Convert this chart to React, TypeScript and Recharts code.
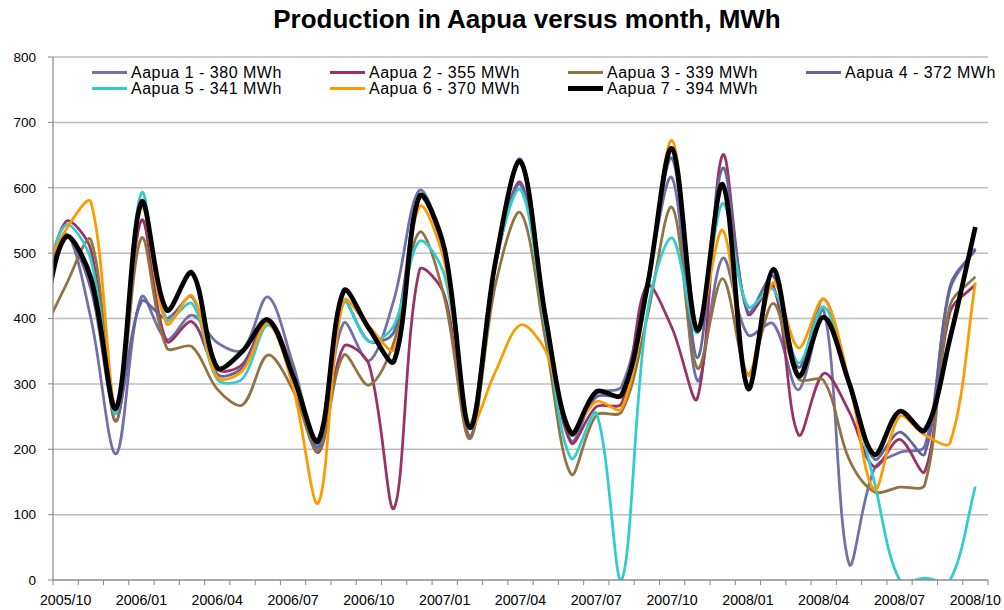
import React from 'react';
import { LineChart, Line, XAxis, YAxis, CartesianGrid } from 'recharts';

// Months (first entry 2005/09 lies just outside the visible axis and is clipped)
const MONTHS = [
  '2005/09', '2005/10', '2005/11', '2005/12', '2006/01', '2006/02', '2006/03', '2006/04', '2006/05', '2006/06',
  '2006/07', '2006/08', '2006/09', '2006/10', '2006/11', '2006/12', '2007/01', '2007/02', '2007/03', '2007/04',
  '2007/05', '2007/06', '2007/07', '2007/08', '2007/09', '2007/10', '2007/11', '2007/12', '2008/01', '2008/02',
  '2008/03', '2008/04', '2008/05', '2008/06', '2008/07', '2008/08', '2008/09', '2008/10',
];

const TICK_LABELS = [
  '2005/10', '2006/01', '2006/04', '2006/07', '2006/10', '2007/01', '2007/04',
  '2007/07', '2007/10', '2008/01', '2008/04', '2008/07', '2008/10',
];

const Y_TICKS = [0, 100, 200, 300, 400, 500, 600, 700, 800];

const AAPUA_1 = [410, 530, 400, 193, 433, 368, 405, 363, 352, 433, 330, 207, 393, 335, 430, 596, 500, 220, 485, 644, 405, 213, 285, 296, 455, 615, 305, 492, 375, 392, 291, 412, 25, 170, 195, 205, 445, 507];
const AAPUA_2 = [409, 548, 505, 243, 550, 365, 395, 322, 330, 400, 320, 195, 357, 330, 110, 474, 435, 217, 480, 608, 395, 210, 265, 270, 450, 385, 278, 650, 407, 450, 222, 316, 258, 173, 215, 166, 410, 452];
const AAPUA_3 = [369, 450, 520, 243, 523, 355, 357, 292, 268, 344, 290, 197, 344, 298, 365, 532, 430, 216, 450, 562, 365, 162, 252, 257, 400, 570, 324, 461, 315, 423, 308, 305, 185, 135, 142, 146, 420, 464];
const AAPUA_4 = [428, 525, 445, 255, 426, 400, 433, 315, 325, 398, 318, 203, 425, 365, 380, 585, 495, 235, 480, 605, 398, 222, 280, 285, 445, 645, 340, 630, 410, 465, 325, 430, 300, 185, 226, 193, 450, 505];
const AAPUA_5 = [429, 543, 490, 255, 592, 398, 423, 307, 308, 390, 318, 210, 425, 365, 390, 518, 465, 240, 485, 597, 385, 186, 255, 0, 405, 523, 378, 576, 418, 445, 332, 418, 300, 150, 0, 3, 0, 143];
const AAPUA_6 = [461, 535, 578, 265, 570, 392, 435, 310, 320, 393, 295, 118, 427, 388, 353, 571, 485, 235, 318, 390, 350, 228, 273, 262, 440, 672, 385, 535, 313, 455, 355, 430, 305, 138, 250, 222, 210, 455];
const AAPUA_7 = [378, 525, 462, 263, 578, 413, 470, 325, 350, 398, 312, 213, 442, 385, 335, 587, 505, 233, 485, 640, 400, 225, 288, 283, 445, 660, 382, 605, 293, 475, 312, 402, 302, 192, 258, 229, 370, 540];

const SERIES = [
  { key: 's1', name: 'Aapua 1 - 380 MWh', values: AAPUA_1, color: '#7171A8', width: 2.75 },
  { key: 's2', name: 'Aapua 2 - 355 MWh', values: AAPUA_2, color: '#993366', width: 2.75 },
  { key: 's3', name: 'Aapua 3 - 339 MWh', values: AAPUA_3, color: '#8F7443', width: 2.75 },
  { key: 's4', name: 'Aapua 4 - 372 MWh', values: AAPUA_4, color: '#65659C', width: 2.75 },
  { key: 's5', name: 'Aapua 5 - 341 MWh', values: AAPUA_5, color: '#33CCCC', width: 2.75 },
  { key: 's6', name: 'Aapua 6 - 370 MWh', values: AAPUA_6, color: '#FF9900', width: 2.75 },
  { key: 's7', name: 'Aapua 7 - 394 MWh', values: AAPUA_7, color: '#000000', width: 4.75 },
];

const DATA = MONTHS.map((m, i) => {
  const row: Record<string, number | string> = { month: m, idx: i - 1 };
  SERIES.forEach((s) => { row[s.key] = s.values[i]; });
  return row;
});

// boundaries between month slots (tick marks) + label centres
const BOUNDARIES = MONTHS.map((_, i) => i - 0.5);
const LABEL_POS = TICK_LABELS.map((l) => MONTHS.indexOf(l) - 1);
const X_TICKS = [...BOUNDARIES, ...LABEL_POS].sort((a, b) => a - b);

// Excel-like smoothed line: Bezier spline with chord-length weighted control points
function excelCurve(context: any) {
  let pts: number[][] = [];
  const dist = (a: number[], b: number[]) => Math.hypot(b[0] - a[0], b[1] - a[1]);
  return {
    areaStart() {},
    areaEnd() {},
    lineStart() { pts = []; },
    point(x: number, y: number) { pts.push([+x, +y]); },
    lineEnd() {
      const n = pts.length;
      if (!n) return;
      context.moveTo(pts[0][0], pts[0][1]);
      for (let i = 0; i < n - 1; i++) {
        const p0 = pts[i - 1] || pts[i];
        const p1 = pts[i];
        const p2 = pts[i + 1];
        const p3 = pts[i + 2] || p2;
        const d01 = dist(p0, p1);
        const d12 = dist(p1, p2);
        const d23 = dist(p2, p3);
        const f1 = d01 + d12 > 0 ? d12 / (d01 + d12) / 3 : 0;
        const f2 = d12 + d23 > 0 ? d12 / (d12 + d23) / 3 : 0;
        context.bezierCurveTo(
          p1[0] + (p2[0] - p0[0]) * f1, p1[1] + (p2[1] - p0[1]) * f1,
          p2[0] - (p3[0] - p1[0]) * f2, p2[1] - (p3[1] - p1[1]) * f2,
          p2[0], p2[1],
        );
      }
    },
  };
}

const XTick = (props: any) => {
  const { x, y, payload } = props;
  const v = payload.value;
  if (Number.isInteger(v)) {
    return (
      <text x={x} y={y + 25} textAnchor="middle" fontSize={14.2} fill="#000">
        {MONTHS[v + 1]}
      </text>
    );
  }
  return <line x1={x} y1={y} x2={x} y2={y + 5} stroke="#868686" strokeWidth={1} />;
};

const LEGEND_ROWS = [[0, 1, 2, 3], [4, 5, 6]];

export default function App() {
  return (
    <div
      style={{
        position: 'absolute', left: 0, top: 0, width: 1004, height: 610, background: '#fff',
        fontFamily: '"Liberation Sans", Arial, sans-serif', overflow: 'hidden',
      }}
    >
      <div
        style={{
          position: 'absolute', left: 527, top: 4, transform: 'translateX(-50%)', whiteSpace: 'nowrap',
          fontSize: 26, fontWeight: 'bold', color: '#000',
        }}
      >
        Production in Aapua versus month, MWh
      </div>
      <LineChart width={1004} height={610} data={DATA} margin={{ top: 57, right: 16, bottom: 0, left: 0 }}>
        <CartesianGrid horizontal vertical={false} stroke="#BDBDBD" strokeWidth={1.5} />
        <XAxis
          dataKey="idx"
          type="number"
          domain={[-0.5, 36.5]}
          allowDataOverflow
          ticks={X_TICKS}
          interval={0}
          tickSize={0}
          tickMargin={0}
          tickLine={false}
          tick={<XTick />}
          height={30}
          axisLine={{ stroke: '#868686', strokeWidth: 1.2 }}
        />
        <YAxis
          type="number"
          domain={[0, 800]}
          allowDataOverflow
          ticks={Y_TICKS}
          interval={0}
          width={53}
          tickSize={5}
          tickMargin={12}
          tick={{ fontSize: 13.5, fill: '#000' }}
          tickLine={{ stroke: '#868686' }}
          axisLine={{ stroke: '#868686', strokeWidth: 1.2 }}
        />
        {SERIES.map((s) => (
          <Line
            key={s.key}
            dataKey={s.key}
            name={s.name}
            type={excelCurve as any}
            stroke={s.color}
            strokeWidth={s.width}
            dot={false}
            activeDot={false}
            isAnimationActive={false}
          />
        ))}
      </LineChart>
      {LEGEND_ROWS.map((row, r) =>
        row.map((si, c) => {
          const s = SERIES[si];
          return (
            <div
              key={s.key}
              style={{
                position: 'absolute', left: 92 + 238 * c, top: 65 + 16 * r, height: 15,
                display: 'flex', alignItems: 'center', whiteSpace: 'nowrap',
              }}
            >
              <div style={{ width: 35, height: s.key === 's7' ? 5 : 3, background: s.color, marginRight: 4 }} />
              <span style={{ fontSize: 16, lineHeight: '15px', letterSpacing: 0.5, color: '#000' }}>{s.name}</span>
            </div>
          );
        }),
      )}
    </div>
  );
}
